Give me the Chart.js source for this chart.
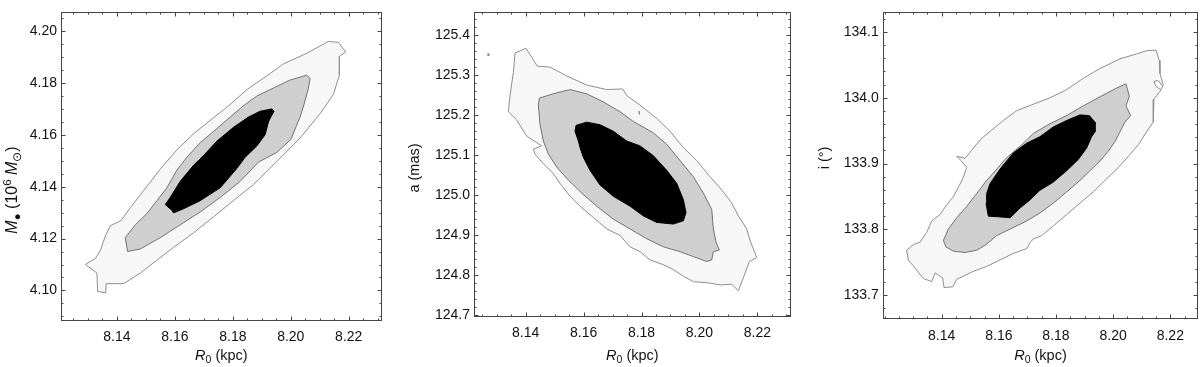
<!DOCTYPE html>
<html><head><meta charset="utf-8">
<script src="https://cdn.jsdelivr.net/npm/chart.js@4.4.1/dist/chart.umd.min.js"></script>
<style>
html,body{margin:0;padding:0;background:#fff;}
#wrap{position:relative;width:1200px;height:367px;overflow:hidden;}
.c{position:absolute;top:0;width:400px;height:367px;}
</style></head><body>
<div id="wrap">
<div class="c" style="left:0"><canvas id="c1" width="400" height="367"></canvas></div>
<div class="c" style="left:400px"><canvas id="c2" width="400" height="367"></canvas></div>
<div class="c" style="left:800px"><canvas id="c3" width="400" height="367"></canvas></div>
</div>
<script>
// ---------- tick values / labels ----------
const r0Ticks = [8.14, 8.16, 8.18, 8.20, 8.22];
const r0TickLabels = ['8.14', '8.16', '8.18', '8.20', '8.22'];
const massTicks = [4.10, 4.12, 4.14, 4.16, 4.18, 4.20];
const massTickLabels = ['4.10', '4.12', '4.14', '4.16', '4.18', '4.20'];
const aTicks = [124.7, 124.8, 124.9, 125.0, 125.1, 125.2, 125.3, 125.4];
const aTickLabels = ['124.7', '124.8', '124.9', '125.0', '125.1', '125.2', '125.3', '125.4'];
const incTicks = [133.7, 133.8, 133.9, 134.0, 134.1];
const incTickLabels = ['133.7', '133.8', '133.9', '134.0', '134.1'];

// ---------- axis titles (text, style) ----------
const r0Title = [['R', 'i'], ['0', 'sub'], [' (kpc)', '']];
const massTitle = [['M', 'i'], ['\u25CF', 'sub'], [' (10', ''], ['6', 'sup'], [' ', ''], ['M', 'i'], ['\u2299', 'sub'], [')', '']];
const aTitle = [['a (mas)', '']];
const incTitle = [['i (\u00B0)', '']];

// ---------- panel 1: R0 vs M_BH contours ----------
const massOuterR0 = [8.12908, 8.13253, 8.13425, 8.13598, 8.1377, 8.14138, 8.1446, 8.14805, 8.15149, 8.15494, 8.16069, 8.16644, 8.17333, 8.17793, 8.18483, 8.19172, 8.19747, 8.20552, 8.21299, 8.21644, 8.21896, 8.21678, 8.21678, 8.21471, 8.21011, 8.20322, 8.19517, 8.18713, 8.18023, 8.17333, 8.16644, 8.15954, 8.15379, 8.14805, 8.1423, 8.13632, 8.13609, 8.13333, 8.1331];
const massOuterM = [4.11005, 4.11228, 4.11538, 4.12097, 4.12494, 4.12692, 4.13189, 4.13685, 4.14181, 4.14677, 4.15422, 4.16042, 4.16663, 4.1706, 4.17742, 4.18275, 4.18734, 4.19144, 4.19603, 4.19566, 4.19194, 4.1902, 4.183, 4.17556, 4.16811, 4.15881, 4.14975, 4.14082, 4.13462, 4.12841, 4.12221, 4.11663, 4.11166, 4.1067, 4.10261, 4.10261, 4.09913, 4.09963, 4.1067];
const massMidR0 = [8.14287, 8.14632, 8.15034, 8.15379, 8.15724, 8.16069, 8.16414, 8.16874, 8.17333, 8.17908, 8.18368, 8.18827, 8.19402, 8.19977, 8.20552, 8.20667, 8.20609, 8.2046, 8.20322, 8.2, 8.19517, 8.18885, 8.18253, 8.17563, 8.16874, 8.16184, 8.15494, 8.14805, 8.14368];
const massMidM = [4.12035, 4.12531, 4.12965, 4.13462, 4.13958, 4.1464, 4.15136, 4.15695, 4.16129, 4.16687, 4.17122, 4.17494, 4.17804, 4.18114, 4.183, 4.18176, 4.17804, 4.17184, 4.16687, 4.15819, 4.15323, 4.1495, 4.14206, 4.13586, 4.13027, 4.12531, 4.12035, 4.116, 4.11501];
const massInnerR0 = [8.15667, 8.15839, 8.16184, 8.16644, 8.16988, 8.17448, 8.18023, 8.1854, 8.18942, 8.19345, 8.19425, 8.1931, 8.1923, 8.19115, 8.18827, 8.18425, 8.18138, 8.17563, 8.16874, 8.16299, 8.15954, 8.15897];
const massInnerM = [4.13313, 4.13586, 4.14206, 4.14826, 4.15198, 4.15757, 4.1629, 4.16687, 4.16911, 4.16998, 4.16911, 4.16687, 4.16501, 4.16005, 4.15571, 4.15136, 4.14702, 4.13958, 4.13462, 4.13151, 4.1299, 4.13089];

// ---------- panel 2: R0 vs a contours ----------
const aOuterR0 = [8.13632, 8.14012, 8.14403, 8.1484, 8.15416, 8.16106, 8.16797, 8.17349, 8.17488, 8.17948, 8.18523, 8.18984, 8.19444, 8.19905, 8.20365, 8.20768, 8.21113, 8.21343, 8.21631, 8.21746, 8.21976, 8.21723, 8.21516, 8.21343, 8.21113, 8.2071, 8.2025, 8.19789, 8.19444, 8.19099, 8.18754, 8.18293, 8.17948, 8.17603, 8.17257, 8.16797, 8.16337, 8.15934, 8.15531, 8.15186, 8.14955, 8.1461, 8.14322, 8.14265, 8.14552, 8.14035, 8.13689, 8.13401, 8.13459, 8.13574];
const aOuterA = [125.35523, 125.36744, 125.32268, 125.32024, 125.29826, 125.27547, 125.26407, 125.2657, 125.24942, 125.225, 125.19245, 125.15989, 125.11919, 125.08664, 125.04594, 125.01338, 124.98083, 124.94827, 124.91571, 124.88722, 124.84409, 124.83432, 124.79362, 124.76106, 124.77734, 124.77572, 124.78141, 124.78385, 124.79769, 124.81397, 124.82618, 124.83839, 124.85874, 124.87095, 124.89943, 124.91571, 124.9442, 124.96862, 124.9971, 125.02966, 125.05408, 125.0785, 125.10292, 125.11512, 125.12326, 125.14768, 125.18838, 125.20873, 125.24942, 125.3064];
const aMidR0 = [8.14472, 8.1507, 8.15531, 8.16106, 8.16682, 8.17257, 8.17718, 8.18408, 8.18869, 8.19329, 8.19789, 8.20135, 8.20423, 8.2048, 8.20572, 8.20687, 8.2048, 8.20423, 8.2025, 8.19789, 8.19329, 8.18754, 8.18178, 8.17603, 8.17027, 8.16452, 8.15934, 8.15473, 8.1507, 8.14783, 8.1461, 8.14495, 8.14437];
const aMidA = [125.24291, 125.25593, 125.26407, 125.25349, 125.23314, 125.20873, 125.18431, 125.15582, 125.12733, 125.08664, 125.04594, 125.00524, 124.96455, 124.91571, 124.88315, 124.8628, 124.85874, 124.83839, 124.83432, 124.84653, 124.85874, 124.87095, 124.89129, 124.91571, 124.94013, 124.97269, 125.00524, 125.0378, 125.07036, 125.10292, 125.13547, 125.17617, 125.225];
const aInnerR0 = [8.15738, 8.16106, 8.16567, 8.17027, 8.17488, 8.17948, 8.18408, 8.18869, 8.19214, 8.19444, 8.19536, 8.19444, 8.19099, 8.18523, 8.18063, 8.17603, 8.17027, 8.16567, 8.16221, 8.15991, 8.15876, 8.15819, 8.15703];
const aInnerA = [125.17454, 125.18268, 125.17617, 125.15989, 125.13547, 125.12326, 125.09885, 125.06222, 125.02966, 124.98897, 124.95641, 124.93606, 124.92792, 124.93199, 124.94827, 124.97269, 124.9971, 125.02559, 125.06222, 125.09478, 125.11919, 125.13547, 125.15989];
// small isolated contour islands
const aDotR0 = [8.1269, 8.1273, 8.1273, 8.1269];
const aDotA = [125.3535, 125.3535, 125.3490, 125.3490];
const aTickR0 = [8.17915, 8.17935, 8.17935, 8.17915];
const aTickA = [125.2105, 125.2105, 125.2020, 125.2020];

// ---------- panel 3: R0 vs i contours ----------
const incOuterR0 = [8.12775, 8.13009, 8.13242, 8.13475, 8.1365, 8.13942, 8.14175, 8.14408, 8.14618, 8.14758, 8.14875, 8.14665, 8.14525, 8.14816, 8.15108, 8.15399, 8.15749, 8.16157, 8.16624, 8.17207, 8.1779, 8.18373, 8.18956, 8.19539, 8.20239, 8.20822, 8.21172, 8.21499, 8.21615, 8.21639, 8.21755, 8.21639, 8.21429, 8.21405, 8.21172, 8.20881, 8.20589, 8.20181, 8.19773, 8.19306, 8.1884, 8.18373, 8.17907, 8.17499, 8.17207, 8.1709, 8.16974, 8.16507, 8.16041, 8.15574, 8.15108, 8.14758, 8.14525, 8.14385, 8.14082, 8.14035, 8.13767, 8.1365, 8.13359, 8.13067, 8.12834];
const incOuterI = [133.76847, 133.77685, 133.78079, 133.79557, 133.81281, 133.82266, 133.83744, 133.84975, 133.867, 133.87931, 133.89409, 133.90493, 133.91133, 133.90788, 133.92365, 133.93842, 133.95074, 133.96552, 133.9803, 133.99015, 134.0, 134.01232, 134.02956, 134.04434, 134.05911, 134.0665, 134.07143, 134.07241, 134.05665, 134.03695, 134.0197, 134.00985, 133.99754, 133.96305, 133.94828, 133.92857, 133.91379, 133.89409, 133.87685, 133.85714, 133.8399, 133.82266, 133.80542, 133.79064, 133.78571, 133.7798, 133.77094, 133.76355, 133.75369, 133.74384, 133.73645, 133.72906, 133.72414, 133.71281, 133.71182, 133.7266, 133.73399, 133.72069, 133.72562, 133.74138, 133.75369];
const incMidR0 = [8.14058, 8.14233, 8.14525, 8.14875, 8.15225, 8.15574, 8.15924, 8.16274, 8.16741, 8.17207, 8.1779, 8.18373, 8.18956, 8.19539, 8.20123, 8.20449, 8.20566, 8.20449, 8.20612, 8.20414, 8.20239, 8.20064, 8.19831, 8.19539, 8.1919, 8.1884, 8.18373, 8.17907, 8.1744, 8.16974, 8.16391, 8.15924, 8.15516, 8.15225, 8.14816, 8.14408, 8.14152];
const incMidI = [133.78325, 133.80049, 133.81773, 133.83498, 133.85468, 133.87438, 133.89163, 133.90887, 133.92611, 133.94581, 133.96059, 133.97291, 133.98768, 134.00148, 134.01478, 134.02118, 134.00246, 133.98768, 133.97291, 133.96305, 133.94828, 133.9335, 133.91872, 133.90394, 133.88916, 133.87438, 133.85714, 133.8399, 133.82512, 133.81281, 133.80049, 133.79064, 133.77586, 133.76847, 133.76503, 133.767, 133.7734];
const incInnerR0 = [8.15574, 8.15691, 8.16041, 8.16507, 8.16974, 8.1744, 8.17907, 8.18373, 8.1884, 8.19166, 8.19365, 8.19365, 8.19248, 8.19073, 8.18781, 8.18373, 8.17907, 8.1744, 8.1709, 8.16741, 8.16391, 8.15983, 8.15633, 8.15551];
const incInnerI = [133.85468, 133.86946, 133.89163, 133.91626, 133.93103, 133.94089, 133.95567, 133.96552, 133.97389, 133.97291, 133.96305, 133.94828, 133.94089, 133.92365, 133.9064, 133.88916, 133.87192, 133.8596, 133.84483, 133.83251, 133.81773, 133.81921, 133.8202, 133.8399];
// small loop near the right edge of the outer contour
const incLoopR0 = [8.21429, 8.2158, 8.21732, 8.21662, 8.21499];
const incLoopI = [134.02463, 134.02611, 134.01724, 134.01232, 134.01724];

// ---------- styling ----------
const FONT = "'Liberation Sans', Arial, Helvetica, sans-serif";
const LIGHT_FILL = '#f7f7f7', LIGHT_LINE = '#8e8e8e';
const MID_FILL = '#cfcfcf', MID_LINE = '#747474';
const DARK_FILL = '#000000';
const TEXT = '#111111';

function ring(xs, ys) {
  const pts = xs.map((v, i) => ({x: v, y: ys[i]}));
  pts.push({x: xs[0], y: ys[0]});
  return pts;
}

function layoutRich(ctx, segs, size) {
  let w = 0;
  const items = segs.map(([t, st]) => {
    const small = st === 'sub' || st === 'sup';
    const fs = small ? size * 0.72 : size;
    const font = (st === 'i' ? 'italic ' : '') + fs + 'px ' + FONT;
    ctx.font = font;
    const tw = ctx.measureText(t).width;
    const dy = st === 'sub' ? size * 0.22 : (st === 'sup' ? -size * 0.38 : 0);
    const it = {t, font, x: w, dy};
    w += tw;
    return it;
  });
  return {w, items};
}

const framePlugin = {
  id: 'frameTicks',
  afterDatasetsDraw(chart) {
    const o = chart.options.plugins.frameTicks;
    const {ctx, chartArea: a, scales: {x, y}} = chart;
    ctx.save();
    ctx.strokeStyle = '#454545';
    ctx.lineWidth = 1;
    ctx.beginPath();
    const L = Math.round(a.left) + 0.5, R = Math.round(a.right) - 0.5;
    const T = Math.round(a.top) + 0.5, B = Math.round(a.bottom) - 0.5;
    const isMajor = (v, arr) => arr.some(m => Math.abs(m - v) < 1e-7);
    const xStart = Math.ceil(x.min / o.xMinor - 1e-6), xEnd = Math.floor(x.max / o.xMinor + 1e-6);
    for (let k = xStart; k <= xEnd; k++) {
      const v = k * o.xMinor;
      const len = isMajor(v, o.xMajor) ? 4 : 2;
      const px = Math.round(x.getPixelForValue(v)) + 0.5;
      ctx.moveTo(px, B); ctx.lineTo(px, B - len);
      ctx.moveTo(px, T); ctx.lineTo(px, T + len);
    }
    const yStart = Math.ceil(y.min / o.yMinor - 1e-6), yEnd = Math.floor(y.max / o.yMinor + 1e-6);
    for (let k = yStart; k <= yEnd; k++) {
      const v = k * o.yMinor;
      const len = isMajor(v, o.yMajor) ? 4 : 2;
      const py = Math.round(y.getPixelForValue(v)) + 0.5;
      ctx.moveTo(L, py); ctx.lineTo(L + len, py);
      ctx.moveTo(R, py); ctx.lineTo(R - len, py);
    }
    ctx.stroke();
    ctx.strokeRect(L, T, R - L, B - T);
    ctx.restore();
  },
  afterDraw(chart) {
    const o = chart.options.plugins.frameTicks;
    const {ctx, chartArea: a} = chart;
    ctx.save();
    ctx.fillStyle = TEXT;
    ctx.textBaseline = 'alphabetic';
    ctx.textAlign = 'left';
    let r = layoutRich(ctx, o.xTitle, o.titleSize);
    let x0 = (a.left + a.right) / 2 - r.w / 2;
    r.items.forEach(it => { ctx.font = it.font; ctx.fillText(it.t, x0 + it.x, o.xTitleBase + it.dy); });
    r = layoutRich(ctx, o.yTitle, o.yTitleSize);
    ctx.translate(o.yTitleBase, o.yTitleCenter);
    ctx.rotate(-Math.PI / 2);
    x0 = -r.w / 2;
    r.items.forEach(it => { ctx.font = it.font; ctx.fillText(it.t, x0 + it.x, it.dy); });
    ctx.restore();
  }
};

function makePanel(id, p) {
  const sets = [
    {data: ring(p.outer[0], p.outer[1]), backgroundColor: LIGHT_FILL, borderColor: LIGHT_LINE, order: 3},
    {data: ring(p.mid[0], p.mid[1]), backgroundColor: MID_FILL, borderColor: MID_LINE, order: 2},
    {data: ring(p.inner[0], p.inner[1]), backgroundColor: DARK_FILL, borderColor: DARK_FILL, order: 1}
  ];
  (p.extras || []).forEach(e => sets.push({data: ring(e[0], e[1]), backgroundColor: e[2], borderColor: LIGHT_LINE, order: 0}));
  new Chart(document.getElementById(id), {
    type: 'scatter',
    data: {
      datasets: sets.map(d => Object.assign(d, {showLine: true, fill: 'shape', borderWidth: 1, pointRadius: 0, pointHoverRadius: 0, tension: 0}))
    },
    options: {
      responsive: false,
      animation: false,
      events: [],
      layout: {padding: {top: p.top, right: p.right, left: 0, bottom: 0}},
      plugins: {
        legend: {display: false},
        tooltip: {enabled: false},
        frameTicks: {xMinor: 0.005, xMajor: r0Ticks, yMinor: p.yMinor, yMajor: p.yTicks,
          xTitle: r0Title, yTitle: p.yTitle, titleSize: 14.5, yTitleSize: p.yTitleSize, xTitleBase: 360,
          yTitleBase: p.yTitleBase, yTitleCenter: p.yTitleCenter}
      },
      scales: {
        x: {
          type: 'linear', min: p.xMin, max: p.xMax,
          afterFit: s => { s.height = p.xAxisH; },
          afterBuildTicks: s => { s.ticks = r0Ticks.map(v => ({value: v})); },
          grid: {display: false, drawTicks: false}, border: {display: false},
          ticks: {font: {family: FONT, size: 14}, color: TEXT, padding: 8, maxRotation: 0, autoSkip: false,
            callback: (v, i) => r0TickLabels[i]}
        },
        y: {
          type: 'linear', min: p.yMin, max: p.yMax,
          afterFit: s => { s.width = p.yAxisW; },
          afterBuildTicks: s => { s.ticks = p.yTicks.map(v => ({value: v})); },
          grid: {display: false, drawTicks: false}, border: {display: false},
          ticks: {font: {family: FONT, size: 14}, color: TEXT, padding: 4, autoSkip: false,
            callback: (v, i) => p.yLabels[i]}
        }
      }
    },
    plugins: [framePlugin]
  });
}

makePanel('c1', {
  outer: [massOuterR0, massOuterM], mid: [massMidR0, massMidM], inner: [massInnerR0, massInnerM],
  xMin: 8.12069, xMax: 8.23138, yMin: 4.08834, yMax: 4.2072,
  top: 2, right: 18.3, yAxisW: 61, xAxisH: 46.3,
  yTicks: massTicks, yLabels: massTickLabels, yMinor: 0.005,
  yTitle: massTitle, yTitleSize: 16, yTitleBase: 17, yTitleCenter: 190
});
makePanel('c2', {
  outer: [aOuterR0, aOuterA], mid: [aMidR0, aMidA], inner: [aInnerR0, aInnerA],
  extras: [[aDotR0, aDotA, 'rgba(0,0,0,0)'], [aTickR0, aTickA, 'rgba(0,0,0,0)']],
  xMin: 8.12216, xMax: 8.2315, yMin: 124.69676, yMax: 125.457,
  top: 5, right: 9.3, yAxisW: 74, xAxisH: 50.5,
  yTicks: aTicks, yLabels: aTickLabels, yMinor: 0.02,
  yTitle: aTitle, yTitleSize: 14.5, yTitleBase: 19, yTitleCenter: 168
});
makePanel('c3', {
  outer: [incOuterR0, incOuterI], mid: [incMidR0, incMidI], inner: [incInnerR0, incInnerI],
  extras: [[incLoopR0, incLoopI, '#ffffff']],
  xMin: 8.11936, xMax: 8.2298, yMin: 133.66355, yMax: 134.1296,
  top: 4, right: 1.7, yAxisW: 82.7, xAxisH: 47.7,
  yTicks: incTicks, yLabels: incTickLabels, yMinor: 0.02,
  yTitle: incTitle, yTitleSize: 14.5, yTitleBase: 29, yTitleCenter: 158
});
</script>
</body></html>
